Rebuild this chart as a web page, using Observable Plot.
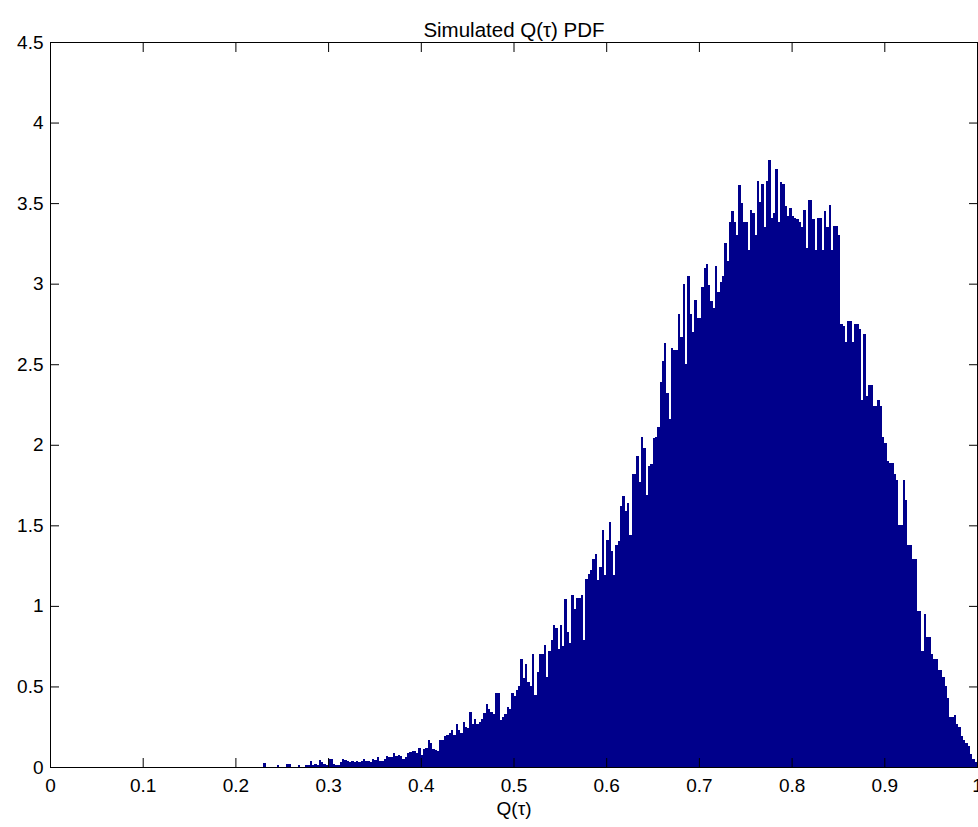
<!DOCTYPE html>
<html>
<head>
<meta charset="utf-8">
<script src="https://cdn.jsdelivr.net/npm/d3@7"></script>
<script src="https://cdn.jsdelivr.net/npm/@observablehq/plot@0.6"></script>
<style>
  html, body { margin: 0; padding: 0; background: #fff; }
  #chart svg { display: block; }
</style>
</head>
<body>
<div id="chart"></div>
<script>
// Histogram bin layout (regular bins) and estimated densities
const BIN_START = 0.23;
const BIN_WIDTH = 0.0025;
const density = [
  0.027,0,0,0,0,0,0.015,0,0,0,
  0.016,0.016,0,0,0,0.012,0,0,0.01,0.01,
  0.037,0.015,0.02,0.012,0.045,0.03,0.02,0.015,0.05,0.048,
  0.02,0.012,0.01,0.03,0.05,0.045,0.035,0.03,0.035,0.03,
  0.038,0.03,0.035,0.05,0.04,0.035,0.03,0.05,0.045,0.06,
  0.04,0.035,0.05,0.07,0.065,0.06,0.09,0.07,0.072,0.07,
  0.05,0.06,0.09,0.095,0.1,0.1,0.085,0.12,0.075,0.11,
  0.115,0.17,0.15,0.11,0.105,0.1,0.165,0.17,0.19,0.2,
  0.21,0.23,0.2,0.27,0.23,0.21,0.28,0.25,0.24,0.34,
  0.27,0.30,0.27,0.28,0.30,0.335,0.39,0.36,0.34,0.33,
  0.46,0.46,0.29,0.31,0.33,0.37,0.36,0.46,0.44,0.48,
  0.50,0.67,0.55,0.64,0.53,0.50,0.70,0.45,0.59,0.70,
  0.70,0.76,0.56,0.72,0.79,0.88,0.86,0.73,0.88,0.75,
  1.04,0.84,0.77,1.07,0.98,1.05,1.05,1.07,0.79,1.17,
  1.20,1.22,1.29,1.32,1.16,1.24,1.47,1.19,1.41,1.52,
  1.34,1.19,1.38,1.40,1.62,1.68,1.59,1.64,1.44,1.82,
  1.82,1.93,1.77,2.05,1.98,1.69,1.87,1.88,2.04,2.05,
  2.11,2.39,2.52,2.63,2.32,2.16,2.60,2.59,2.59,2.81,
  2.67,3.00,2.50,3.05,2.81,2.70,2.90,2.79,2.79,2.98,
  3.10,3.12,2.99,2.89,2.85,3.11,2.95,3.01,3.05,3.25,
  3.14,3.38,3.45,3.38,3.30,3.61,3.50,3.38,3.38,3.21,
  3.46,3.44,3.30,3.64,3.51,3.62,3.35,3.64,3.77,3.41,
  3.44,3.71,3.38,3.63,3.62,3.48,3.42,3.47,3.42,3.41,
  3.40,3.38,3.35,3.46,3.22,3.52,3.52,3.40,3.21,3.41,
  3.41,3.21,3.45,3.35,3.49,3.21,3.36,3.36,3.30,2.75,
  2.74,2.64,2.77,2.77,2.64,2.75,2.75,2.72,2.28,2.69,
  2.30,2.37,2.37,2.24,2.24,2.28,2.24,2.05,2.01,1.90,
  1.89,1.89,1.82,1.78,1.50,1.50,1.78,1.66,1.38,1.38,
  1.29,1.29,0.97,0.97,0.72,0.95,0.81,0.81,0.70,0.67,
  0.67,0.60,0.60,0.56,0.50,0.43,0.31,0.31,0.32,0.27,
  0.25,0.19,0.17,0.15,0.13,0.08,0.05,0.03
];
const xTicks = [0, 0.1, 0.2, 0.3, 0.4, 0.5, 0.6, 0.7, 0.8, 0.9, 1];
const yTicks = [0, 0.5, 1, 1.5, 2, 2.5, 3, 3.5, 4, 4.5];
const titleText = "Simulated Q(\u03c4) PDF";
const xLabel = "Q(\u03c4)";

const bins = density.map((d, i) => ({
  x1: BIN_START + i * BIN_WIDTH,
  x2: BIN_START + (i + 1) * BIN_WIDTH,
  y: d
}));

const fmt = d => `${+d.toFixed(2)}`;
const FONT = "Liberation Sans, Arial, Helvetica, sans-serif";

const chart = Plot.plot({
  width: 978,
  height: 827,
  marginLeft: 50,
  marginRight: 1,
  marginTop: 42,
  marginBottom: 60,
  style: { fontFamily: FONT, fontSize: "19px", color: "#000", background: "#fff", overflow: "visible" },
  x: { domain: [0, 1] },
  y: { domain: [0, 4.5] },
  marks: [
    Plot.rectY(bins, {
      x1: "x1", x2: "x2", y: "y",
      fill: "#00008B", inset: 0, shapeRendering: "crispEdges"
    }),
    Plot.frame({ stroke: "#000", strokeWidth: 1 }),
    // inward ticks
    Plot.axisX({ anchor: "bottom", ticks: xTicks, tickSize: -9, tickFormat: () => "", label: null, stroke: "#000" }),
    Plot.axisX({ anchor: "top", ticks: xTicks, tickSize: -9, tickFormat: () => "", label: null, stroke: "#000" }),
    Plot.axisY({ anchor: "left", ticks: yTicks, tickSize: -9, tickFormat: () => "", label: null, stroke: "#000" }),
    Plot.axisY({ anchor: "right", ticks: yTicks, tickSize: -9, tickFormat: () => "", label: null, stroke: "#000" }),
    // labels
    Plot.axisX({ anchor: "bottom", ticks: xTicks, tickSize: 0, tickPadding: 11, tickFormat: fmt,
      fill: "#000", fontSize: 19, label: xLabel, labelAnchor: "center", labelArrow: "none", labelOffset: 47 }),
    Plot.axisY({ anchor: "left", ticks: yTicks, tickSize: 0, tickPadding: 7, tickFormat: fmt,
      fill: "#000", fontSize: 19, label: null }),
    Plot.text([titleText], { frameAnchor: "top", dy: -20, fontSize: 20.5, fill: "#000", text: d => d })
  ]
});

document.getElementById("chart").appendChild(chart);
</script>
</body>
</html>
